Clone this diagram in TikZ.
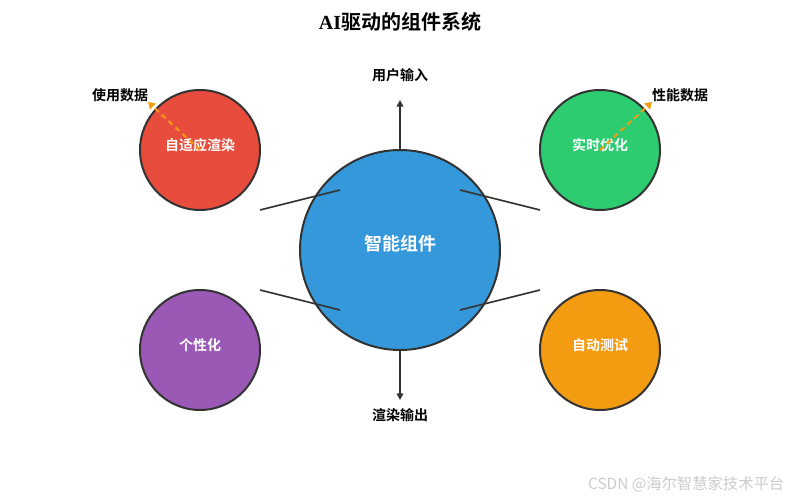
\documentclass[tikz,border=0pt]{standalone}
\usepackage{fontspec}
\newfontfamily\cjk{Noto Sans CJK SC}
\newfontfamily\cjkb{Noto Sans CJK SC}[BoldFont={Noto Sans CJK SC Bold}]
\newfontfamily\serifb{Liberation Serif}
\usetikzlibrary{arrows.meta}
\definecolor{cred}{HTML}{E74C3C}
\definecolor{cgreen}{HTML}{2ECC71}
\definecolor{cblue}{HTML}{3498DB}
\definecolor{cpurple}{HTML}{9B59B6}
\definecolor{corange}{HTML}{F39C12}
\definecolor{cdark}{HTML}{333333}
\tikzset{
  ball/.style={circle, draw=cdark, line width=1.5pt, inner sep=0pt, text=white, font=\cjkb\bfseries\fontsize{10.5}{12}\selectfont},
  lbl/.style={font=\cjkb\bfseries\fontsize{10.5}{12}\selectfont, text=black},
  link/.style={draw=cdark, line width=1.2pt},
  flow/.style={draw=cdark, line width=1.2pt, -{Triangle[length=5pt,width=5pt]}},
  datadash/.style={draw=corange, line width=1.5pt, dash pattern=on 4pt off 3pt, -{Triangle[length=5pt,width=6pt]}}
}
\begin{document}
\begin{tikzpicture}[x=0.75pt,y=-0.75pt]
\useasboundingbox (0,0) rectangle (800,500);
\fill[white] (0,0) rectangle (800,500);
\node[font=\bfseries\fontsize{15}{18}\selectfont] (title) at (400,22) {{\serifb AI}{\cjkb 驱动的组件系统}};
% center
\node[ball, fill=cblue, minimum size=200*0.75pt] (core) at (400,250) {};
\node[ball, draw=none, fill=none, font=\cjkb\bfseries\fontsize{13.5}{16}\selectfont] (coret) at (400,244) {智能组件};
% small balls
\node[ball, fill=cred, minimum size=120*0.75pt] (ar) at (200,150) {};
\node[ball, fill=cgreen, minimum size=120*0.75pt] (rt) at (600,150) {};
\node[ball, fill=cpurple, minimum size=120*0.75pt] (ps) at (200,350) {};
\node[ball, fill=corange, minimum size=120*0.75pt] (at) at (600,350) {};
\node[ball, draw=none, fill=none] (art) at (200,145) {自适应渲染};
\node[ball, draw=none, fill=none] (rtt) at (600,145) {实时优化};
\node[ball, draw=none, fill=none] (pst) at (200,345) {个性化};
\node[ball, draw=none, fill=none] (att) at (600,345) {自动测试};
% connectors
\coordinate (a1) at (260,210); \coordinate (a2) at (340,190);
\coordinate (b1) at (460,190); \coordinate (b2) at (540,210);
\coordinate (c1) at (260,290); \coordinate (c2) at (340,310);
\coordinate (d1) at (460,310); \coordinate (d2) at (540,290);
\draw[link] (a1) -- (a2);
\draw[link] (b1) -- (b2);
\draw[link] (c1) -- (c2);
\draw[link] (d1) -- (d2);
% in/out
\node[lbl] (in) at (400,75) {用户输入};
\node[lbl] (out) at (400,415) {渲染输出};
\coordinate (intip) at (400,100);
\coordinate (outtip) at (400,400);
\draw[flow] (core.north) -- (intip);
\draw[flow] (core.south) -- (outtip);
% data
\node[lbl] (use) at (120,95) {使用数据};
\node[lbl] (perf) at (680,95) {性能数据};
\coordinate (ud) at (148,102);
\coordinate (pd) at (652,102);
\draw[datadash] (ar.center) -- (ud);
\draw[datadash] (rt.center) -- (pd);
% watermark
\node[font=\cjk\fontsize{11.5}{14}\selectfont, text=black!20, anchor=east] (wm) at (789,484) {CSDN @海尔智慧家技术平台};
\end{tikzpicture}
\end{document}
